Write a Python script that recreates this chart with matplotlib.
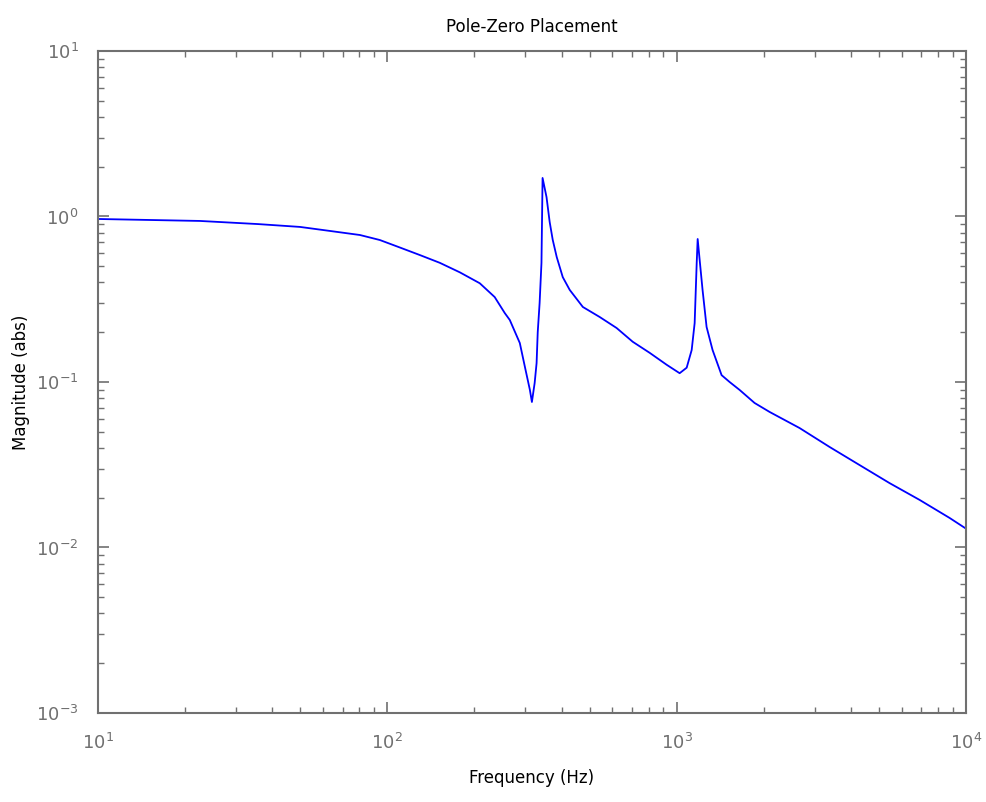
#Pole-zero placement magnitude response, log-log plot
import numpy as np
import matplotlib.pyplot as plt

#frequency (Hz) and magnitude values
freq = [10, 22.5, 35.7, 49.9, 63.3, 80.4, 94.2, 110.4, 129.5, 151.8, 178, 208.7,
        235, 254.6, 265, 287, 299, 311, 316, 323, 328, 331, 336, 341, 344, 355,
        364, 373, 385, 404, 427, 474, 542, 620, 705, 807, 924, 1024, 1083, 1127,
        1154, 1173, 1182, 1201, 1229, 1269, 1331, 1430, 1524, 1651, 1859, 2096,
        2660, 3377, 4286, 5442, 6909, 8770, 10000]
mag = [0.966, 0.94, 0.90, 0.865, 0.818, 0.773, 0.721, 0.65, 0.585, 0.525, 0.46,
       0.395, 0.326, 0.261, 0.237, 0.172, 0.123, 0.0895, 0.0757, 0.0986, 0.130,
       0.200, 0.300, 0.524, 1.71, 1.31, 0.927, 0.722, 0.569, 0.430, 0.360, 0.284,
       0.247, 0.212, 0.175, 0.150, 0.127, 0.113, 0.122, 0.156, 0.227, 0.524, 0.731,
       0.546, 0.360, 0.215, 0.156, 0.110, 0.100, 0.0895, 0.0747, 0.0659, 0.0527,
       0.0405, 0.0315, 0.0245, 0.0194, 0.0151, 0.0130]

grey = '#707070'

fig = plt.figure(figsize=(9.87, 8.02), dpi=100)
ax = fig.add_axes([0.0993, 0.111, 0.8794, 0.8254])

ax.loglog(freq, mag, color='#0000ff', linewidth=1.3)

ax.set_xlim(10, 1e4)
ax.set_ylim(1e-3, 1e1)

#matlab style: grey box, ticks inside on every side
for side in ax.spines.values():
    side.set_color(grey)
    side.set_linewidth(1.5)
ax.tick_params(which='both', direction='in', top=True, right=True, colors=grey,
               labelsize=13)
ax.tick_params(which='major', length=8, width=1.2)
ax.tick_params(which='minor', length=4, width=1.0)
ax.tick_params(axis='x', which='major', pad=14)
ax.tick_params(axis='y', which='major', pad=14)

ax.set_title('Pole-Zero Placement', fontsize=12, pad=14)
ax.set_xlabel('Frequency (Hz)', fontsize=12, labelpad=12)
ax.set_ylabel('Magnitude (abs)', fontsize=12, labelpad=4)

plt.savefig('out.png', dpi=100)
